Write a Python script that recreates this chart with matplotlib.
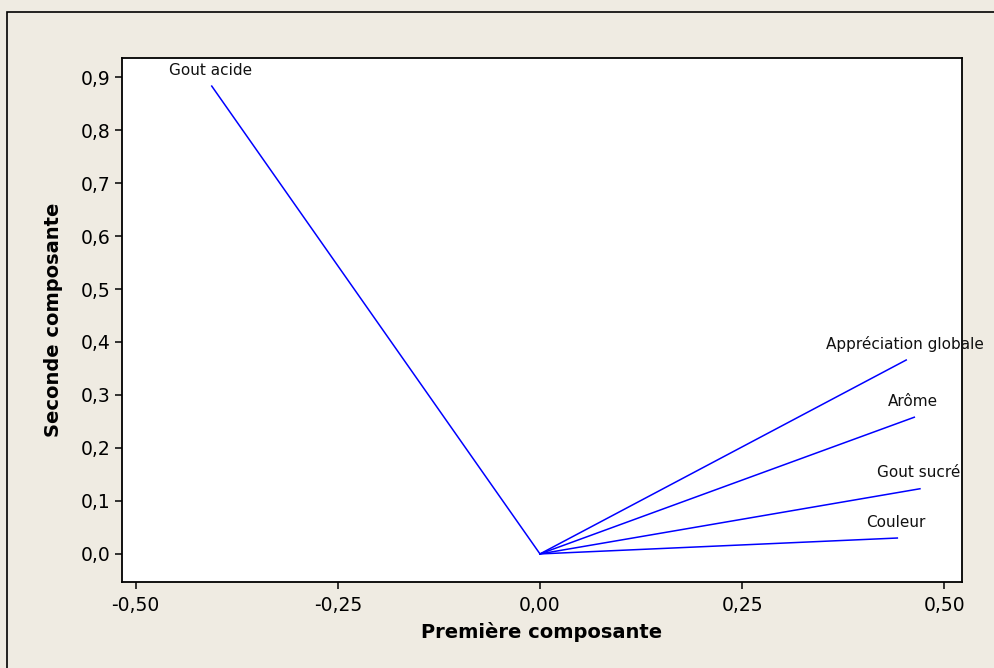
import matplotlib
matplotlib.use("Agg")
from matplotlib import pyplot as plt
from matplotlib.patches import Rectangle
from matplotlib.ticker import FuncFormatter

# loadings
variables = ["Gout acide", "Appréciation globale", "Arôme", "Gout sucré", "Couleur"]
pc1 = [-0.406, 0.453, 0.463, 0.470, 0.442]
pc2 = [0.883, 0.366, 0.258, 0.123, 0.030]

x_ticks = [-0.50, -0.25, 0.00, 0.25, 0.50]
y_ticks = [0.0, 0.1, 0.2, 0.3, 0.4, 0.5, 0.6, 0.7, 0.8, 0.9]

bg = "#EFEBE2"

fig = plt.figure(figsize=(9.95, 6.68), dpi=100, facecolor=bg)
# outer frame (left and top edges visible)
fig.patches.append(Rectangle((7 / 995, -0.05), 1.0, 1.05 - 12 / 668,
                             transform=fig.transFigure, fill=False,
                             edgecolor="black", linewidth=1.2))

ax = fig.add_axes([122 / 995, 86 / 668, 840 / 995, 524 / 668])
ax.set_facecolor("white")

for name, x, y in zip(variables, pc1, pc2):
    ax.plot([0, x], [0, y], color="#0000FF", linewidth=1.1)
    ax.annotate(name, (x, y), xytext=(-1, 6), textcoords="offset points",
                ha="center", va="bottom", fontsize=11, color="#111111")

ax.set_xlim(-0.517, 0.522)
ax.set_ylim(-0.053, 0.936)
ax.set_xticks(x_ticks)
ax.set_yticks(y_ticks)
ax.xaxis.set_major_formatter(FuncFormatter(lambda v, p: f"{v:.2f}".replace(".", ",")))
ax.yaxis.set_major_formatter(FuncFormatter(lambda v, p: f"{v:.1f}".replace(".", ",")))
ax.tick_params(axis="both", direction="out", length=5, width=1.1, labelsize=13.5)
ax.tick_params(axis="x", pad=5)
ax.tick_params(axis="y", pad=3)

for s in ax.spines.values():
    s.set_linewidth(1.3)
    s.set_color("black")

ax.set_xlabel("Première composante", fontsize=14, fontweight="bold", labelpad=5)
ax.set_ylabel("Seconde composante", fontsize=14, fontweight="bold", labelpad=13)

fig.savefig("out.png", dpi=100, facecolor=bg)
